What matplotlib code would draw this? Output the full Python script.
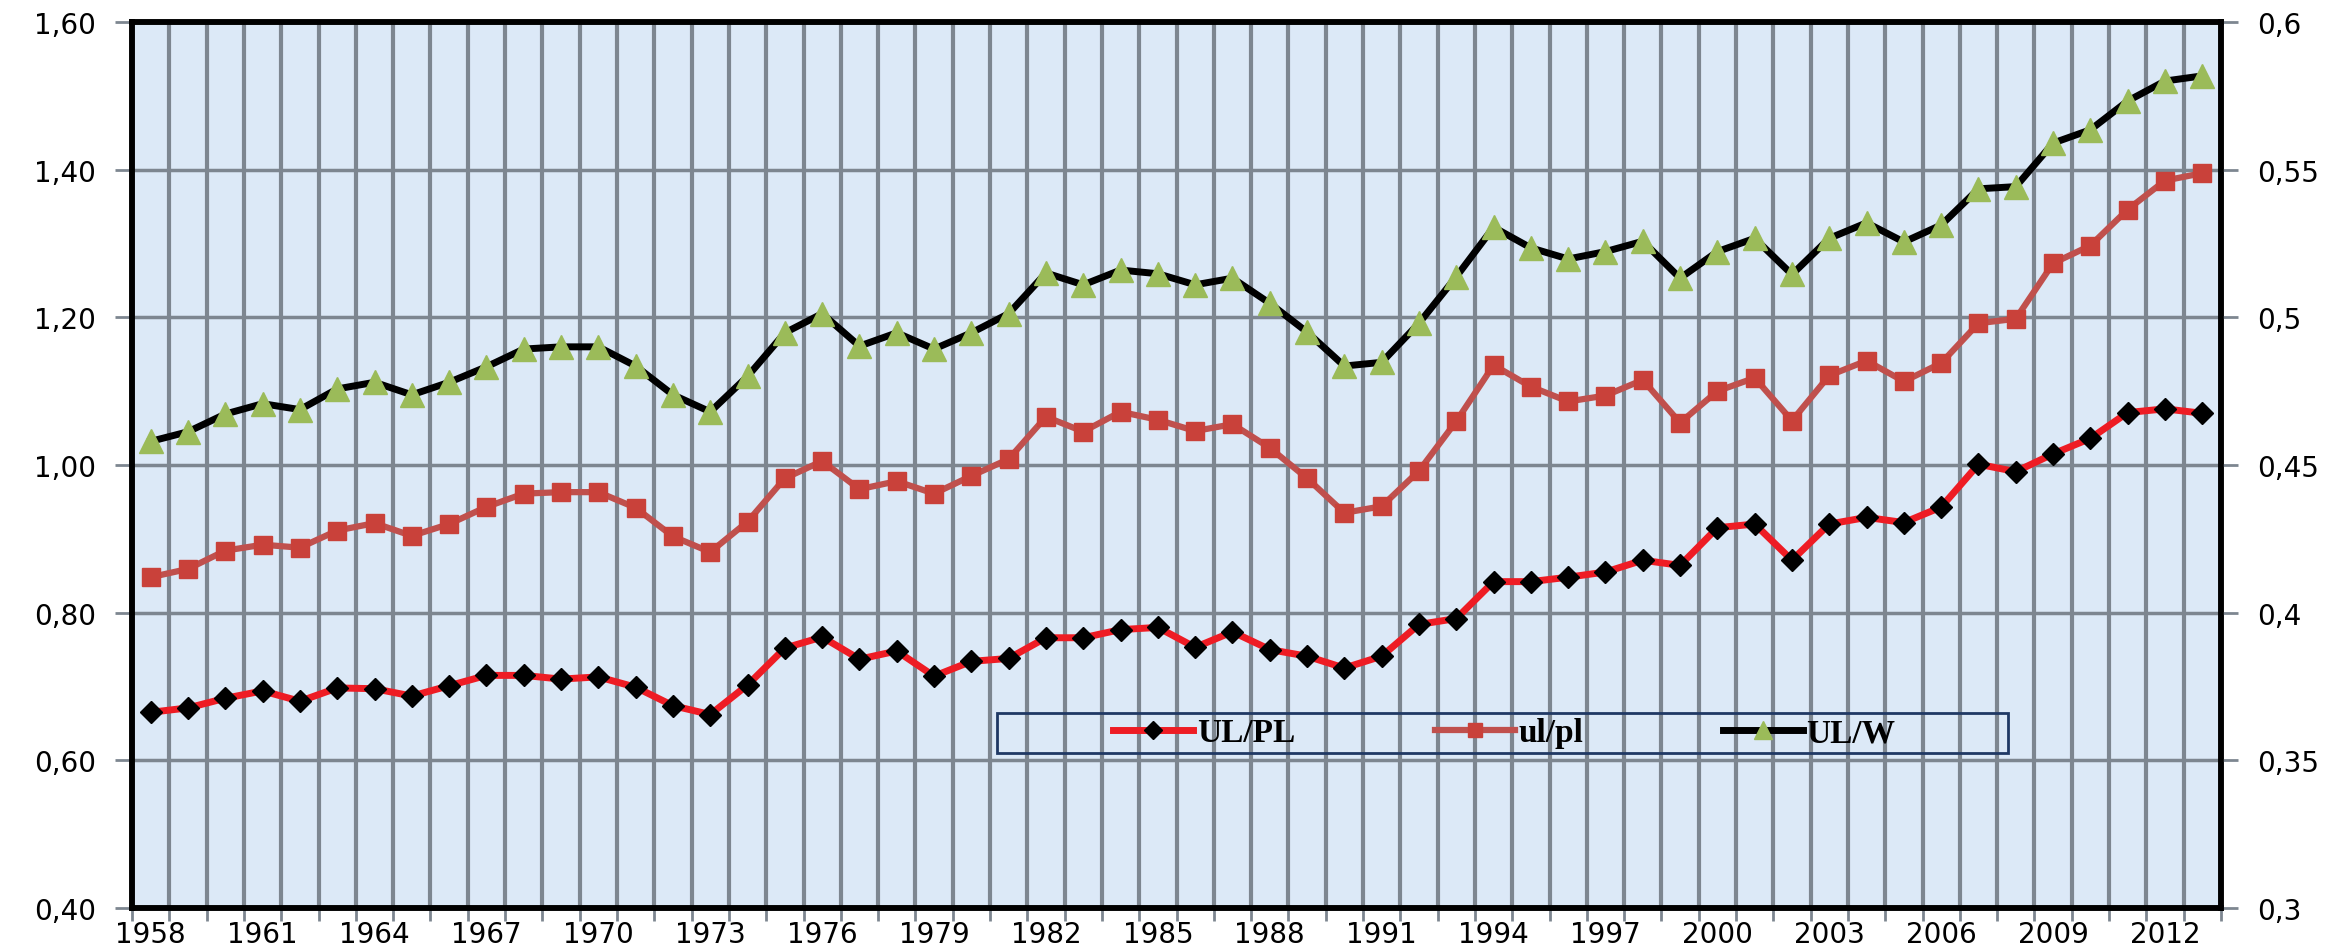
import numpy as np
import matplotlib.pyplot as plt
from matplotlib.patches import Rectangle
from matplotlib.ticker import FixedLocator, FuncFormatter

# Jahre 1958-2013
years = list(range(1958, 2014))

# UL/PL (linke Achse)
ul_pl_upper = [0.665, 0.671, 0.684, 0.694, 0.680, 0.698, 0.697, 0.687, 0.701, 0.715,
               0.715, 0.710, 0.713, 0.699, 0.674, 0.662, 0.702, 0.752, 0.767, 0.737,
               0.748, 0.714, 0.734, 0.738, 0.766, 0.766, 0.777, 0.780, 0.753, 0.774,
               0.750, 0.741, 0.725, 0.741, 0.784, 0.792, 0.842, 0.842, 0.848, 0.855,
               0.871, 0.864, 0.915, 0.920, 0.871, 0.920, 0.929, 0.922, 0.943, 1.001,
               0.991, 1.015, 1.036, 1.071, 1.076, 1.070]

# ul/pl (rechte Achse)
ul_pl_lower = [0.412, 0.4148, 0.421, 0.423, 0.422, 0.4278, 0.4303, 0.426, 0.430, 0.4358,
               0.4403, 0.4408, 0.4408, 0.4355, 0.4258, 0.4205, 0.4308, 0.4455, 0.4513, 0.4418,
               0.4445, 0.4403, 0.4463, 0.452, 0.4663, 0.4613, 0.468, 0.4653, 0.4615, 0.4638,
               0.4558, 0.4455, 0.4338, 0.436, 0.448, 0.4648, 0.4838, 0.4765, 0.4715, 0.4735,
               0.4788, 0.4643, 0.475, 0.4795, 0.465, 0.4803, 0.4853, 0.4783, 0.4845, 0.498,
               0.4995, 0.5183, 0.5243, 0.5365, 0.5463, 0.5488]

# UL/W (linke Achse)
ul_w = [1.032, 1.045, 1.069, 1.083, 1.075, 1.103, 1.112, 1.095, 1.112, 1.133,
        1.157, 1.160, 1.160, 1.134, 1.095, 1.072, 1.120, 1.179, 1.205, 1.161,
        1.179, 1.157, 1.179, 1.205, 1.260, 1.244, 1.264, 1.259, 1.244, 1.253,
        1.219, 1.180, 1.134, 1.139, 1.192, 1.255, 1.322, 1.294, 1.279, 1.289,
        1.303, 1.253, 1.289, 1.307, 1.258, 1.307, 1.328, 1.302, 1.325, 1.374,
        1.377, 1.436, 1.454, 1.493, 1.520, 1.527]

left_ticks = [0.40, 0.60, 0.80, 1.00, 1.20, 1.40, 1.60]
right_ticks = [0.3, 0.35, 0.4, 0.45, 0.5, 0.55, 0.6]
right_labels = ["0,3", "0,35", "0,4", "0,45", "0,5", "0,55", "0,6"]

grid_col = "#7d8690"
bg_col = "#dce9f7"

x = np.arange(len(years))

fig = plt.figure(figsize=(23.46, 9.53), dpi=100)
ax = fig.add_axes([0.0563, 0.0462, 0.8904, 0.9297])
ax2 = ax.twinx()
ax.set_facecolor(bg_col)
ax2.patch.set_visible(False)

# Linien
ax.plot(x, ul_w, color="black", lw=5, marker="^", markersize=17,
        markerfacecolor="#9bbb59", markeredgecolor="#9bbb59", label="UL/W", zorder=3)
ax.plot(x, ul_pl_upper, color="#ee1c24", lw=5, marker="D", markersize=11,
        markerfacecolor="black", markeredgecolor="black", label="UL/PL", zorder=3)
ax2.plot(x, ul_pl_lower, color="#c0504d", lw=4.5, marker="s", markersize=13,
         markerfacecolor="#c9413a", markeredgecolor="#c9413a", label="ul/pl", zorder=3)

ax.set_xlim(-0.5, len(years) - 0.5)
ax.set_ylim(0.4, 1.6)
ax2.set_ylim(0.3, 0.6)

# x-Achse: Beschriftung jedes 3. Jahr, Gitter an Kategoriegrenzen
ax.set_xticks(x[::3])
ax.set_xticklabels([str(y) for y in years[::3]])
ax.xaxis.set_minor_locator(FixedLocator(np.arange(-0.5, len(years), 1.0)))
ax.tick_params(axis="x", which="major", length=0, pad=9, labelsize=20)
ax.tick_params(axis="x", which="minor", length=9, width=2, color=grid_col)
ax.grid(True, which="minor", axis="x", color=grid_col, lw=3, zorder=1)

ax.set_yticks(left_ticks)
ax.yaxis.set_major_formatter(FuncFormatter(lambda v, p: f"{v:.2f}".replace(".", ",")))
ax.tick_params(axis="y", length=12, width=2, color=grid_col, pad=14, labelsize=20)
ax.grid(True, which="major", axis="y", color=grid_col, lw=2.5, zorder=1)

ax2.set_yticks(right_ticks)
ax2.set_yticklabels(right_labels)
ax2.tick_params(axis="y", length=12, width=2, color=grid_col, pad=14, labelsize=20)

for a in (ax, ax2):
    for s in a.spines.values():
        s.set_color("black")
        s.set_linewidth(4)
    a.set_axisbelow(True)

# Legende mit eigenem Rahmen
h1, l1 = ax.get_legend_handles_labels()
h2, l2 = ax2.get_legend_handles_labels()
handles = [h1[1], h2[0], h1[0]]
labels = [l1[1], l2[0], l1[0]]
ax2.add_patch(Rectangle((0.414, 0.175), 0.484, 0.045, transform=ax2.transAxes,
                        fill=False, edgecolor="#1f3864", lw=2, zorder=5))
leg = ax2.legend(handles, labels, loc="center", ncol=3,
                 bbox_to_anchor=(0.657, 0.1975),
                 prop={"family": "Liberation Serif", "weight": "bold", "size": 24},
                 frameon=False, handlelength=2.4, handletextpad=0.1,
                 columnspacing=4.2, borderpad=0.2, markerscale=0.8)

fig.savefig("out.png", dpi=100)
